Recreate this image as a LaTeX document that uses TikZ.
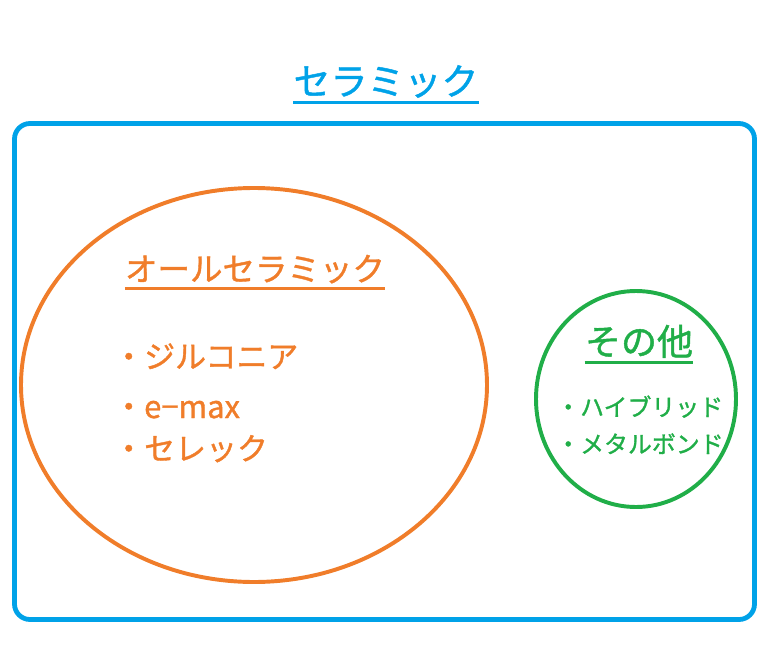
\documentclass[tikz,border=0pt]{standalone}
\usepackage{fontspec}
\usepackage{xcolor}
\newfontfamily\jpfont[FakeBold=1.2]{Noto Sans CJK JP}
\definecolor{CerBlue}{RGB}{0,162,232}
\definecolor{AllOrange}{RGB}{240,125,42}
\definecolor{EtcGreen}{RGB}{32,174,72}

\tikzset{
	txt/.style={inner sep=0pt, anchor=base, font=\jpfont},
	uline/.style={line width=2.1pt}
}

\begin{document}
\begin{tikzpicture}[x=0.025cm, y=-0.025cm]

	\useasboundingbox (0,0) rectangle (770,651);

	% frame and circles
	\draw[CerBlue, line width=3.4pt, rounded corners=11pt] (14.5,123.5) rectangle (754.5,619.5);
	\draw[AllOrange, line width=2.8pt] (254,385) ellipse (233 and 197);
	\draw[EtcGreen, line width=2.8pt] (636,399) ellipse (100 and 108);

	% titles
	\node[txt, CerBlue, font=\jpfont\fontsize{26.3}{30}\selectfont] (ttl) at (386,95) {セラミック};
	\draw[CerBlue, uline] ([yshift=-3.2pt]ttl.south west) -- ([yshift=-3.2pt]ttl.south east);

	\node[txt, AllOrange, font=\jpfont\fontsize{23.1}{27}\selectfont] (all) at (255,281) {オールセラミック};
	\draw[AllOrange, uline] ([yshift=-3.2pt]all.south west) -- ([yshift=-3.2pt]all.south east);

	\node[txt, EtcGreen, font=\jpfont\fontsize{25.6}{30}\selectfont] (etc) at (639,355) {その他};
	\draw[EtcGreen, uline] ([yshift=-3.2pt]etc.south west) -- ([yshift=-3.2pt]etc.south east);

	% items
	\node[txt, anchor=base west, AllOrange, font=\jpfont\fontsize{22}{26}\selectfont] (zir) at (113,368) {・ジルコニア};
	\node[txt, anchor=base west, AllOrange, font=\jpfont\fontsize{22}{26}\selectfont] (emax) at (113,418) {・e−max};
	\node[txt, anchor=base west, AllOrange, font=\jpfont\fontsize{22}{26}\selectfont] (cer) at (113,460) {・セレック};

	\node[txt, anchor=base west, EtcGreen, font=\jpfont\fontsize{17}{20}\selectfont] (hyb) at (556,416) {・ハイブリッド};
	\node[txt, anchor=base west, EtcGreen, font=\jpfont\fontsize{17}{20}\selectfont] (met) at (556,453) {・メタルボンド};

\end{tikzpicture}
\end{document}
